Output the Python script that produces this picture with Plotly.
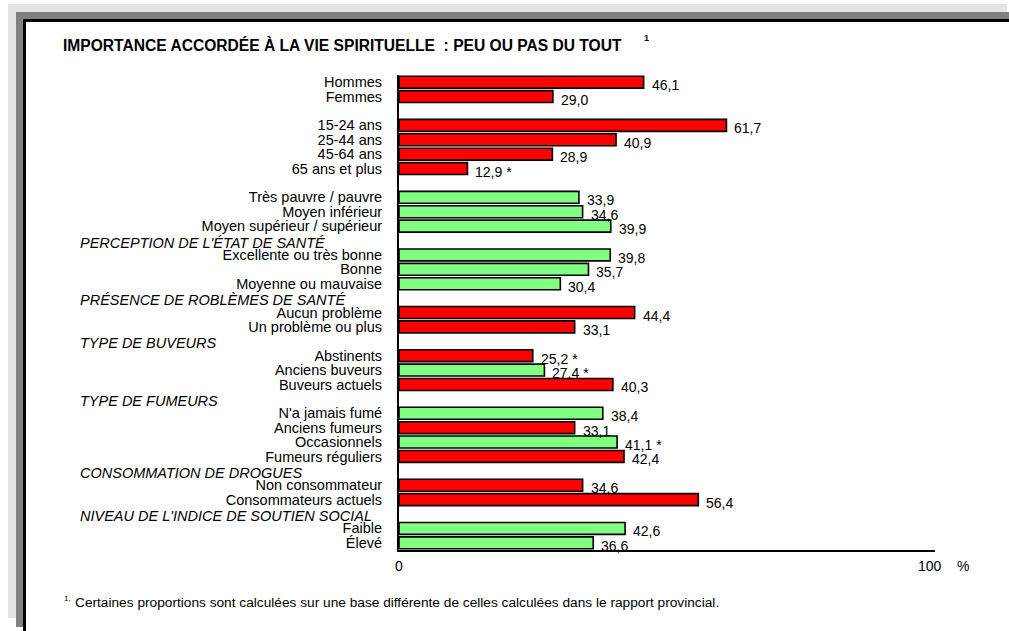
import plotly.graph_objects as go

# Row slots, top to bottom (group headers and spacer rows carry no bar)
slots = [
    "Hommes", "Femmes", "gap-1",
    "15-24 ans", "25-44 ans", "45-64 ans", "65 ans et plus", "gap-2",
    "Très pauvre / pauvre", "Moyen inférieur", "Moyen supérieur / supérieur",
    "PERCEPTION DE L'ÉTAT DE SANTÉ",
    "Excellente ou très bonne", "Bonne", "Moyenne ou mauvaise",
    "PRÉSENCE DE ROBLÈMES DE SANTÉ",
    "Aucun problème", "Un problème ou plus",
    "TYPE DE BUVEURS",
    "Abstinents", "Anciens buveurs", "Buveurs actuels",
    "TYPE DE FUMEURS",
    "N'a jamais fumé", "Anciens fumeurs", "Occasionnels", "Fumeurs réguliers",
    "CONSOMMATION DE DROGUES",
    "Non consommateur", "Consommateurs actuels",
    "NIVEAU DE L'INDICE DE SOUTIEN SOCIAL",
    "Faible", "Élevé",
]

headers = [
    "PERCEPTION DE L'ÉTAT DE SANTÉ",
    "PRÉSENCE DE ROBLÈMES DE SANTÉ",
    "TYPE DE BUVEURS",
    "TYPE DE FUMEURS",
    "CONSOMMATION DE DROGUES",
    "NIVEAU DE L'INDICE DE SOUTIEN SOCIAL",
]

bar_labels = [
    "Hommes", "Femmes",
    "15-24 ans", "25-44 ans", "45-64 ans", "65 ans et plus",
    "Très pauvre / pauvre", "Moyen inférieur", "Moyen supérieur / supérieur",
    "Excellente ou très bonne", "Bonne", "Moyenne ou mauvaise",
    "Aucun problème", "Un problème ou plus",
    "Abstinents", "Anciens buveurs", "Buveurs actuels",
    "N'a jamais fumé", "Anciens fumeurs", "Occasionnels", "Fumeurs réguliers",
    "Non consommateur", "Consommateurs actuels",
    "Faible", "Élevé",
]

bar_values = [
    46.1, 29.0,
    61.7, 40.9, 28.9, 12.9,
    33.9, 34.6, 39.9,
    39.8, 35.7, 30.4,
    44.4, 33.1,
    25.2, 27.4, 40.3,
    38.4, 33.1, 41.1, 42.4,
    34.6, 56.4,
    42.6, 36.6,
]

# "*" marks estimates to interpret with caution
bar_flags = [
    "", "",
    "", "", "", "*",
    "", "", "",
    "", "", "",
    "", "",
    "*", "*", "",
    "", "", "*", "",
    "", "",
    "", "",
]

# r = significantly different (red), g = not different (green)
bar_kind = [
    "r", "r",
    "r", "r", "r", "r",
    "g", "g", "g",
    "g", "g", "g",
    "r", "r",
    "r", "g", "r",
    "g", "r", "g", "r",
    "r", "r",
    "g", "g",
]

x_ticks = [0, 100]
x_tick_text = ["0", "100"]

COLORS = {"r": "#ff0000", "g": "#80ff80"}
FONT = "Liberation Sans, Arial, sans-serif"

W, H = 1009, 631
L, R, T, B = 399, 935, 75, 550


def px(xp):
    return (xp - L) / (R - L)


def py(yp):
    return (B - yp) / (B - T)


fig = go.Figure()
fig.add_trace(go.Bar(
    y=bar_labels,
    x=bar_values,
    orientation="h",
    marker=dict(color=[COLORS[k] for k in bar_kind],
                line=dict(color="black", width=1.6)),
    hoverinfo="skip",
    showlegend=False,
))

annotations = []
for lab, v, f in zip(bar_labels, bar_values, bar_flags):
    txt = f"{v:.1f}".replace(".", ",") + (f" {f}" if f else "")
    annotations.append(dict(
        x=v, y=lab, xref="x", yref="y", text=txt, showarrow=False,
        xanchor="left", yanchor="middle", xshift=6, yshift=-3,
        font=dict(family=FONT, size=14, color="black"),
    ))

for h in headers:
    annotations.append(dict(
        x=px(78), y=h, xref="paper", yref="y", text=f"<i>{h}</i>",
        showarrow=False, xanchor="left", yanchor="middle", yshift=-2,
        font=dict(family=FONT, size=14.5, color="black"),
    ))

# Title, footnote marker and footnote
annotations += [
    dict(x=px(61), y=py(45), xref="paper", yref="paper",
         text="<b>IMPORTANCE ACCORDÉE À LA VIE SPIRITUELLE  : PEU OU PAS DU TOUT</b>",
         showarrow=False, xanchor="left", yanchor="middle",
         font=dict(family=FONT, size=15.6, color="black")),
    dict(x=px(642), y=py(38), xref="paper", yref="paper", text="<b>1</b>",
         showarrow=False, xanchor="left", yanchor="middle",
         font=dict(family=FONT, size=9, color="black")),
    dict(x=px(62), y=py(598), xref="paper", yref="paper", text="1.",
         showarrow=False, xanchor="left", yanchor="middle",
         font=dict(family=FONT, size=8, color="black")),
    dict(x=px(73), y=py(602), xref="paper", yref="paper",
         text="Certaines proportions sont calculées sur une base différente de celles calculées dans le rapport provincial.",
         showarrow=False, xanchor="left", yanchor="middle",
         font=dict(family=FONT, size=13.7, color="black")),
    dict(x=100, y=py(566), xref="x", yref="paper", text="%",
         showarrow=False, xanchor="center", yanchor="middle", xshift=33,
         font=dict(family=FONT, size=14, color="black")),
]

# Shadowed frame around the chart
shapes = [
    dict(type="rect", xref="paper", yref="paper", layer="below",
         x0=px(8), x1=px(1007), y0=py(618), y1=py(4),
         fillcolor="#e4e4e4", line=dict(width=0)),
    dict(type="rect", xref="paper", yref="paper", layer="below",
         x0=px(16), x1=px(1020), y0=py(627), y1=py(12),
         fillcolor="#808080", line=dict(width=0)),
    dict(type="rect", xref="paper", yref="paper", layer="below",
         x0=px(23), x1=px(1020), y0=py(650), y1=py(19),
         fillcolor="#000000", line=dict(width=0)),
    dict(type="rect", xref="paper", yref="paper", layer="below",
         x0=px(26), x1=px(1020), y0=py(650), y1=py(22),
         fillcolor="#ffffff", line=dict(width=0)),
]

fig.update_layout(
    width=W, height=H,
    margin=dict(l=L, r=W - R, t=T, b=H - B, pad=0),
    paper_bgcolor="white",
    plot_bgcolor="rgba(0,0,0,0)",
    bargap=0.17,
    annotations=annotations,
    shapes=shapes,
    font=dict(family=FONT, color="black"),
    xaxis=dict(
        range=[0, 101], tickvals=x_ticks, ticktext=x_tick_text,
        showgrid=False, zeroline=False, ticks="",
        showline=True, linecolor="black", linewidth=2,
        tickfont=dict(family=FONT, size=14), ticklabelstandoff=2,
        fixedrange=True,
    ),
    yaxis=dict(
        type="category", categoryorder="array", categoryarray=slots,
        range=[len(slots) - 0.5, -0.5],
        tickvals=bar_labels, ticktext=bar_labels,
        showgrid=False, zeroline=False, ticks="",
        showline=True, linecolor="black", linewidth=2,
        tickfont=dict(family=FONT, size=14.5), ticklabelstandoff=12,
        fixedrange=True,
    ),
)

fig.write_html("out.html")
